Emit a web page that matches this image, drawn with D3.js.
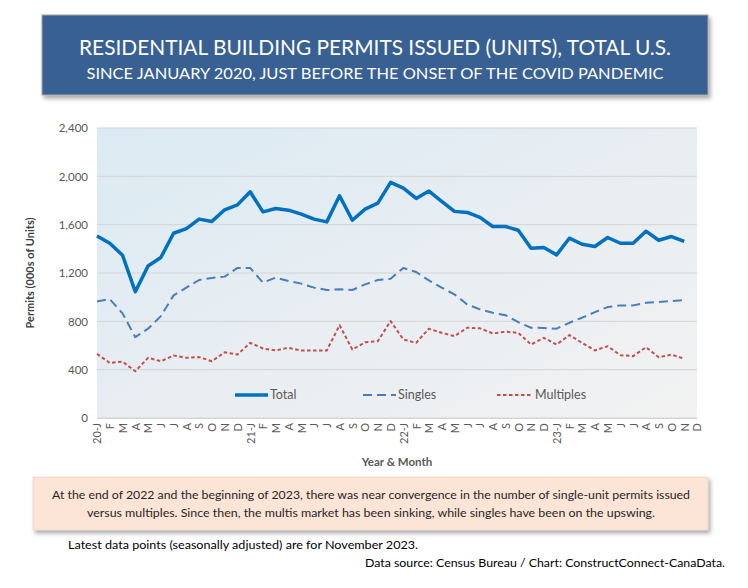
<!DOCTYPE html>
<html><head><meta charset="utf-8">
<script src="https://cdn.jsdelivr.net/npm/d3@7"></script>
<style>
html,body{margin:0;padding:0;background:#fff;}
svg{display:block;font-family:Lato,"Open Sans",sans-serif;}
</style></head><body>
<svg id="c" width="748" height="588"></svg>
<script>
const monthLabels = ["20-J","F","M","A","M","J","J","A","S","O","N","D",
 "21-J","F","M","A","M","J","J","A","S","O","N","D",
 "22-J","F","M","A","M","J","J","A","S","O","N","D",
 "23-J","F","M","A","M","J","J","A","S","O","N","D"];
const total = [1507,1446,1347,1045,1258,1328,1529,1568,1646,1627,1723,1764,
 1872,1706,1734,1720,1687,1646,1623,1839,1637,1729,1778,1950,
 1903,1817,1878,1793,1710,1701,1660,1585,1585,1554,1405,1411,
 1350,1488,1438,1419,1494,1446,1446,1546,1471,1502,1461];
const singles = [965,984,866,669,739,843,1015,1079,1142,1159,1170,1242,
 1242,1120,1162,1134,1112,1079,1059,1065,1059,1106,1142,1153,
 1242,1208,1139,1079,1023,940,899,871,851,793,747,745,
 739,788,830,876,918,932,932,954,960,968,976];
const multiples = [531,456,467,387,498,470,517,498,504,470,544,525,
 622,575,559,581,559,559,559,768,567,627,636,802,
 650,622,739,705,677,747,742,700,714,705,608,664,
 608,686,622,559,594,520,512,586,503,525,490];
const yTicks = [0,400,800,1200,1600,2000,2400];
const seriesNames = ["Total","Singles","Multiples"];

const svg = d3.select("#c");
const defs = svg.append("defs");
const sh = defs.append("filter").attr("id","sh").attr("x","-5%").attr("y","-10%").attr("width","115%").attr("height","140%");
sh.append("feDropShadow").attr("dx",2).attr("dy",3).attr("stdDeviation",2).attr("flood-color","#000").attr("flood-opacity",0.35);
const bg = defs.append("linearGradient").attr("id","bg").attr("x1","0").attr("y1","0").attr("x2","1").attr("y2","1");
bg.append("stop").attr("offset","0").attr("stop-color","#dbeaf3");
bg.append("stop").attr("offset","0.55").attr("stop-color","#e9eef2");
bg.append("stop").attr("offset","1").attr("stop-color","#f2f2f2");

// Title box
svg.append("rect").attr("x",42).attr("y",15).attr("width",666).attr("height",80)
  .attr("fill","#386093").attr("stroke","#a6a6a6").attr("stroke-width",1).attr("filter","url(#sh)");
svg.append("text").attr("x",375).attr("y",55).attr("text-anchor","middle").attr("fill","#fff")
  .attr("font-size",21).attr("textLength",592).attr("lengthAdjust","spacingAndGlyphs")
  .text("RESIDENTIAL BUILDING PERMITS ISSUED (UNITS), TOTAL U.S.");
svg.append("text").attr("x",375).attr("y",79).attr("text-anchor","middle").attr("fill","#fff")
  .attr("font-size",16).attr("textLength",577).attr("lengthAdjust","spacingAndGlyphs")
  .text("SINCE JANUARY 2020, JUST BEFORE THE ONSET OF THE COVID PANDEMIC");

const L=97,R=697,T=128,B=418;
const x = d3.scalePoint().domain(d3.range(monthLabels.length)).range([L,R]);
const y = d3.scaleLinear().domain([0,2400]).range([B,T]);

svg.append("rect").attr("x",L).attr("y",T).attr("width",R-L).attr("height",B-T).attr("fill","url(#bg)");

// grid
svg.append("g").selectAll("line").data(yTicks).join("line")
  .attr("x1",L).attr("x2",R).attr("y1",d=>y(d)).attr("y2",d=>y(d))
  .attr("stroke","#d4d4d4").attr("stroke-width",1);

// y axis
const ya = svg.append("g").attr("transform",`translate(${L},0)`)
  .call(d3.axisLeft(y).tickValues(yTicks).tickSize(0).tickPadding(9).tickFormat(d3.format(",")));
ya.select(".domain").remove();
ya.selectAll("text").attr("font-size",11.5).attr("fill","#595959").attr("font-family","Lato,sans-serif");

// x axis
const xa = svg.append("g").attr("transform",`translate(0,${B})`)
  .call(d3.axisBottom(x).tickSize(0).tickPadding(0).tickFormat(i=>monthLabels[i]));
xa.select(".domain").attr("stroke","#d4d4d4");
xa.selectAll("text").attr("font-size",11).attr("fill","#595959").attr("font-family","Lato,sans-serif")
  .attr("text-anchor","end").attr("transform","rotate(-90)").attr("dx","-5").attr("dy","0.35em").attr("y",0).attr("x",0);

// axis titles
svg.append("text").attr("transform","translate(34,273) rotate(-90)").attr("text-anchor","middle")
  .attr("font-size",11).attr("font-weight","bold").attr("fill","#404040").text("Permits (000s of Units)");
svg.append("text").attr("x",397).attr("y",466).attr("text-anchor","middle")
  .attr("font-size",11.5).attr("font-weight","bold").attr("fill","#595959").text("Year & Month");

const line = d3.line().x((d,i)=>x(i)).y(d=>y(d));
const styles = [
  {data:total, color:"#0070c0", w:3.5, dash:null},
  {data:singles, color:"#4a7ebb", w:2, dash:"9,5"},
  {data:multiples, color:"#c0504d", w:2, dash:"3.5,2.5"}
];
svg.append("g").selectAll("path").data(styles.slice().reverse()).join("path")
  .attr("d",d=>line(d.data)).attr("fill","none").attr("stroke",d=>d.color)
  .attr("stroke-width",d=>d.w).attr("stroke-dasharray",d=>d.dash).attr("stroke-linejoin","round");

// legend
const legX = [235,363,497];
const lg = svg.append("g").selectAll("g").data(styles).join("g")
  .attr("transform",(d,i)=>`translate(${legX[i]},395)`);
lg.append("line").attr("x1",0).attr("x2",(d,i)=>i==2?35:33).attr("y1",0).attr("y2",0)
  .attr("stroke",d=>d.color).attr("stroke-width",d=>d.w).attr("stroke-dasharray",d=>d.dash);
lg.append("text").attr("x",(d,i)=>i==2?38:35).attr("y",0).attr("dy","0.35em")
  .attr("font-size",12.5).attr("fill","#595959").text((d,i)=>seriesNames[i]);

// annotation box
svg.append("rect").attr("x",33).attr("y",477).attr("width",675).attr("height",53)
  .attr("fill","#fce4d6").attr("stroke","#d9c9bf").attr("stroke-width",0.5).attr("filter","url(#sh)");
svg.append("text").attr("x",371).attr("y",499).attr("text-anchor","middle").attr("fill","#262626")
  .attr("font-size",12).attr("textLength",638).attr("lengthAdjust","spacingAndGlyphs")
  .text("At the end of 2022 and the beginning of 2023, there was near convergence in the number of single-unit permits issued");
svg.append("text").attr("x",371).attr("y",517).attr("text-anchor","middle").attr("fill","#262626")
  .attr("font-size",12).attr("textLength",568).attr("lengthAdjust","spacingAndGlyphs")
  .text("versus multiples. Since then, the multis market has been sinking, while singles have been on the upswing.");

svg.append("text").attr("x",68).attr("y",549).attr("font-size",11.5).attr("fill","#000")
  .attr("textLength",350).attr("lengthAdjust","spacingAndGlyphs")
  .text("Latest data points (seasonally adjusted) are for November 2023.");
svg.append("text").attr("x",725).attr("y",567).attr("text-anchor","end").attr("font-size",11.5).attr("fill","#000")
  .attr("textLength",360).attr("lengthAdjust","spacingAndGlyphs")
  .text("Data source: Census Bureau / Chart: ConstructConnect-CanaData.");
</script>
</body></html>
